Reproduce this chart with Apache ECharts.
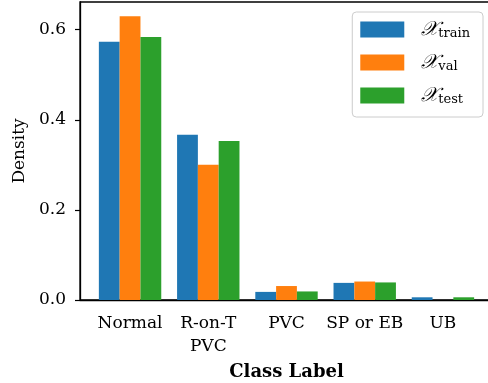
<!DOCTYPE html>
<html>
<head>
<meta charset="utf-8">
<script src="https://cdn.jsdelivr.net/npm/echarts@6/dist/echarts.min.js"></script>
<style>
html,body{margin:0;padding:0;background:#fff;}
#c{width:488px;height:383px;}
</style>
</head>
<body>
<div id="c"></div>
<script>
const categories = ['Normal', 'R-on-T\nPVC', 'PVC', 'SP or EB', 'UB'];
const categoryPositions = [0, 1, 2, 3, 4];
const trainValues = [0.573, 0.367, 0.018, 0.038, 0.006];
const valValues = [0.630, 0.300, 0.031, 0.041, 0.000];
const testValues = [0.584, 0.353, 0.019, 0.039, 0.006];
const yTicks = [0.0, 0.2, 0.4, 0.6];
const seriesNames = ['train', 'val', 'test'];

const colors = ['#1f77b4', '#ff7f0e', '#2ca02c'];
const font = 'DejaVu Serif';

function pairs(vals) { return categoryPositions.map((p, i) => [p, vals[i]]); }

const chart = echarts.init(document.getElementById('c'), null, {renderer: 'canvas'});
chart.setOption({
  animation: false,
  grid: {left: 80, top: 2, width: 413, height: 298, show: true, borderColor: '#000', borderWidth: 1.3, backgroundColor: 'transparent', containLabel: false, outerBoundsMode: 'none'},
  legend: {
    right: 5, top: 12,
    orient: 'vertical',
    itemWidth: 44, itemHeight: 16, itemGap: 12,
    padding: [7, 13, 11, 8],
    borderColor: '#cccccc', borderWidth: 1, borderRadius: 4,
    backgroundColor: 'rgba(255,255,255,0.8)',
    icon: 'rect',
    formatter: n => '{x|𝒳}{s|' + n + '}',
    textStyle: {
      padding: [0, 0, 0, 12],
      rich: {
        x: {fontFamily: font, fontSize: 20, fontStyle: 'italic', color: '#000', lineHeight: 16},
        s: {fontFamily: font, fontSize: 13, color: '#000', padding: [8, 0, 0, 0], lineHeight: 8}
      }
    },
    data: seriesNames
  },
  xAxis: {
    type: 'value', min: -0.64, max: 4.64,
    name: 'Class Label', nameLocation: 'middle', nameGap: 58,
    nameTextStyle: {fontFamily: font, fontSize: 18, fontWeight: 'bold', color: '#000'},
    axisLine: {show: true, onZero: false, lineStyle: {color: '#000', width: 1.3}},
    axisTick: {show: false},
    splitLine: {show: false},
    axisLabel: {
      customValues: categoryPositions,
      formatter: v => categories[Math.round(v)],
      fontFamily: font, fontSize: 17, color: '#000', lineHeight: 23, margin: 12
    }
  },
  yAxis: {
    type: 'value', min: 0, max: 0.6615, interval: 0.2,
    name: 'Density', nameLocation: 'middle', nameGap: 52,
    nameTextStyle: {fontFamily: font, fontSize: 17, color: '#000'},
    axisLine: {show: true, onZero: false, lineStyle: {color: '#000', width: 1.3}},
    axisTick: {show: true, length: 5, lineStyle: {color: '#000', width: 1.2}, customValues: yTicks},
    splitLine: {show: false},
    axisLabel: {customValues: yTicks, formatter: v => v.toFixed(1), fontFamily: font, fontSize: 17, color: '#000', margin: 14}
  },
  series: [
    {name: seriesNames[0], type: 'bar', data: pairs(trainValues), barWidth: 20.8, barGap: '0%', itemStyle: {color: colors[0]}},
    {name: seriesNames[1], type: 'bar', data: pairs(valValues), barWidth: 20.8, barGap: '0%', itemStyle: {color: colors[1]}},
    {name: seriesNames[2], type: 'bar', data: pairs(testValues), barWidth: 20.8, barGap: '0%', itemStyle: {color: colors[2]}}
  ]
});
</script>
</body>
</html>
